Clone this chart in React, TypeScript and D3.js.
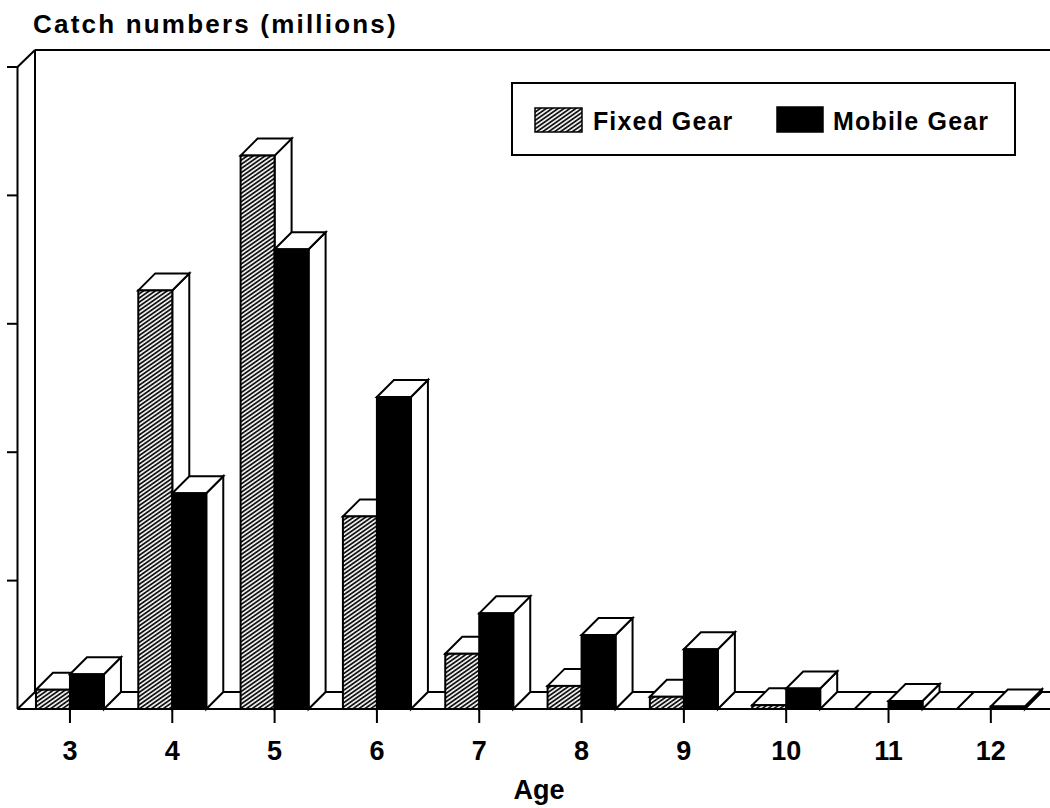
import React from "react";
import * as d3 from "d3";

const ages = ["3", "4", "5", "6", "7", "8", "9", "10", "11", "12"];
const fixedGear = [0.15, 3.26, 4.31, 1.5, 0.43, 0.18, 0.095, 0.03, 0, 0];
const mobileGear = [0.27, 1.68, 3.58, 2.43, 0.745, 0.576, 0.465, 0.16, 0.062, 0.02];
const yTicks = [1, 2, 3, 4, 5];
const seriesNames = ["Fixed Gear", "Mobile Gear"];
const title = "Catch numbers (millions)";
const xTitle = "Age";

const W = 1050;
const H = 808;
const FONT = "'Liberation Sans', Arial, Helvetica, sans-serif";
const D = 17; // 3D depth offset
const BW = 34; // bar width
const FLOOR = 709;
const AXIS_X = 17.5;

const x = d3.scaleBand<string>().domain(ages).range([18.8, 1042]).padding(0);
const y = d3.scaleLinear().domain([0, 5]).range([FLOOR, 67]);

function Bar({ x0, v, fill }: { x0: number; v: number; fill: string }) {
  const yt = y(v);
  const top = [
    [x0, yt],
    [x0 + D, yt - D],
    [x0 + BW + D, yt - D],
    [x0 + BW, yt],
  ];
  const side = [
    [x0 + BW, yt],
    [x0 + BW + D, yt - D],
    [x0 + BW + D, FLOOR - D],
    [x0 + BW, FLOOR],
  ];
  const pts = (p: number[][]) => p.map((q) => q.join(",")).join(" ");
  return (
    <g stroke="#000" strokeWidth={2} strokeLinejoin="miter">
      <polygon points={pts(side)} fill="#fff" />
      <polygon points={pts(top)} fill="#fff" />
      <rect x={x0} y={yt} width={BW} height={Math.max(0, FLOOR - yt)} fill={fill} />
    </g>
  );
}

export default function App() {
  const bw = x.bandwidth();
  return (
    <div style={{ position: "absolute", left: 0, top: 0 }}>
      <svg width={W} height={H} style={{ display: "block", background: "#fff" }}>
        <defs>
          <pattern
            id="hatch"
            patternUnits="userSpaceOnUse"
            width={8}
            height={3.4}
            patternTransform="rotate(-35)"
          >
            <rect width={8} height={3.4} fill="#fff" />
            <line x1={0} y1={1} x2={8} y2={1} stroke="#000" strokeWidth={1.7} />
          </pattern>
        </defs>
        <rect width={W} height={H} fill="#fff" />

        {/* title */}
        <text x={33} y={33} fontFamily={FONT} fontWeight="bold" fontSize={26} letterSpacing={2.2} fill="#000">
          {title}
        </text>

        {/* walls and floor */}
        <g stroke="#000" strokeWidth={2} fill="none">
          <line x1={35} y1={50} x2={W} y2={50} />
          <line x1={35} y1={50} x2={35} y2={FLOOR - D} />
          <line x1={AXIS_X} y1={67} x2={35} y2={50} />
          <line x1={AXIS_X} y1={67} x2={AXIS_X} y2={FLOOR} />
          <line x1={35} y1={FLOOR - D} x2={W} y2={FLOOR - D} />
          <line x1={AXIS_X} y1={FLOOR} x2={W} y2={FLOOR} />
          <line x1={AXIS_X} y1={FLOOR} x2={35} y2={FLOOR - D} />
          {yTicks.map((t) => (
            <line key={t} x1={7} y1={y(t)} x2={AXIS_X} y2={y(t)} />
          ))}
          {ages.map((a) => (
            <line key={a} x1={x(a)! + bw / 2} y1={FLOOR} x2={x(a)! + bw / 2} y2={723} />
          ))}
        </g>

        {/* bars */}
        {ages.map((a, i) => {
          const c = x(a)! + bw / 2;
          return (
            <g key={a}>
              <Bar x0={c - BW} v={fixedGear[i]} fill="url(#hatch)" />
              <Bar x0={c} v={mobileGear[i]} fill="#000" />
            </g>
          );
        })}
        <line x1={AXIS_X} y1={FLOOR} x2={W} y2={FLOOR} stroke="#000" strokeWidth={2} />

        {/* x labels */}
        {ages.map((a) => (
          <text
            key={a}
            x={x(a)! + bw / 2}
            y={760}
            textAnchor="middle"
            fontFamily={FONT}
            fontWeight="bold"
            fontSize={27}
            fill="#000"
          >
            {a}
          </text>
        ))}
        <text x={539} y={799} textAnchor="middle" fontFamily={FONT} fontWeight="bold" fontSize={27} fill="#000">
          {xTitle}
        </text>

        {/* legend */}
        <rect x={512} y={83} width={503} height={72} fill="#fff" stroke="#000" strokeWidth={2} />
        <rect x={535} y={108} width={47} height={24} fill="url(#hatch)" stroke="#000" strokeWidth={1.5} />
        <text x={593} y={130} fontFamily={FONT} fontWeight="bold" fontSize={25} letterSpacing={1.1} fill="#000">
          {seriesNames[0]}
        </text>
        <rect x={777} y={107} width={46} height={25} fill="#000" stroke="#000" strokeWidth={1.5} />
        <text x={833} y={130} fontFamily={FONT} fontWeight="bold" fontSize={25} letterSpacing={1.2} fill="#000">
          {seriesNames[1]}
        </text>
      </svg>
    </div>
  );
}
